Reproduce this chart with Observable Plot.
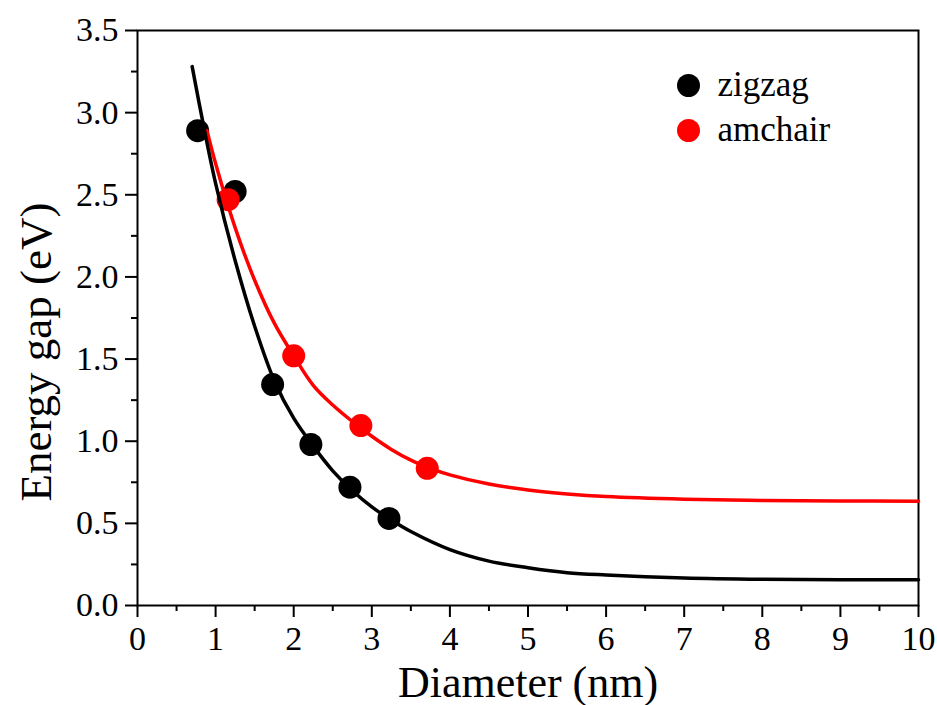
<!DOCTYPE html>
<html><head><meta charset="utf-8">
<script src="https://cdn.jsdelivr.net/npm/d3@7"></script>
<script src="https://cdn.jsdelivr.net/npm/@observablehq/plot@0.6"></script>
<style>
body{margin:0;background:#fff}
#chart{width:937px;height:705px}
</style>
</head><body><div id="chart"></div>
<script>
// ---- data ----
const seriesNames = ["zigzag", "amchair"];
const seriesColors = ["#000000", "#ff0000"];

const zigzagX = [0.77, 1.25, 1.73, 2.22, 2.72, 3.22];
const zigzagY = [2.89, 2.52, 1.345, 0.98, 0.72, 0.53];
const amchairX = [1.16, 2.0, 2.86, 3.71];
const amchairY = [2.47, 1.52, 1.095, 0.835];

// fitted curves
const zigzagFitX = [0.70, 0.85, 1.0, 1.25, 1.5, 1.75, 2.0, 2.25, 2.5, 2.75, 3.0, 3.25, 3.5, 4.0, 4.5, 5.0, 5.5, 6.0, 7.0, 8.0, 9.0, 10.0];
const zigzagFitY = [3.28, 2.91, 2.57, 2.10, 1.70, 1.37, 1.14, 0.97, 0.82, 0.70, 0.60, 0.52, 0.45, 0.34, 0.27, 0.23, 0.20, 0.186, 0.168, 0.160, 0.157, 0.156];
const amchairFitX = [0.89, 1.0, 1.25, 1.5, 1.75, 2.0, 2.25, 2.5, 2.75, 3.0, 3.25, 3.5, 3.75, 4.0, 4.5, 5.0, 5.5, 6.0, 7.0, 8.0, 9.0, 10.0];
const amchairFitY = [2.89, 2.69, 2.30, 1.98, 1.72, 1.52, 1.34, 1.22, 1.12, 1.03, 0.95, 0.885, 0.835, 0.795, 0.739, 0.703, 0.679, 0.663, 0.647, 0.639, 0.636, 0.635];

const xTicks = [0, 1, 2, 3, 4, 5, 6, 7, 8, 9, 10];
const xMinorTicks = [0.5, 1.5, 2.5, 3.5, 4.5, 5.5, 6.5, 7.5, 8.5, 9.5];
const yTicks = [0, 0.5, 1.0, 1.5, 2.0, 2.5, 3.0, 3.5];
const yMinorTicks = [0.25, 0.75, 1.25, 1.75, 2.25, 2.75, 3.25];
const xLabel = "Diameter (nm)";
const yLabel = "Energy gap (eV)";

// ---- build tables ----
const points = [
  ...zigzagX.map((x, i) => ({x, y: zigzagY[i], s: seriesNames[0]})),
  ...amchairX.map((x, i) => ({x, y: amchairY[i], s: seriesNames[1]}))
];
const fits = [
  zigzagFitX.map((x, i) => ({x, y: zigzagFitY[i]})),
  amchairFitX.map((x, i) => ({x, y: amchairFitY[i]}))
];
const legend = seriesNames.map((name, i) => ({name, color: seriesColors[i], i}));

const serif = "'Liberation Serif', 'Times New Roman', serif";
const fmtY = d3.format(".1f");

const marks = [
  Plot.axisY(yTicks, {tickSize: 12, text: null, label: null, strokeWidth: 2}),
  Plot.axisY(yMinorTicks, {tickSize: 6, text: null, label: null, strokeWidth: 2}),
  Plot.axisX(xTicks, {tickSize: 12, text: null, label: null, strokeWidth: 2}),
  Plot.axisX(xMinorTicks, {tickSize: 6, text: null, label: null, strokeWidth: 2}),
  // tick labels
  Plot.text(yTicks, {y: d => d, frameAnchor: "left", dx: -19, text: d => fmtY(d), textAnchor: "end", lineAnchor: "middle", fontSize: 34, fill: "#000"}),
  Plot.text(xTicks, {x: d => d, frameAnchor: "bottom", dy: 20, text: d => String(d), textAnchor: "middle", lineAnchor: "top", fontSize: 34, fill: "#000"}),
  Plot.frame({stroke: "#000", strokeWidth: 2}),
  Plot.dot(points.filter(d => d.s === seriesNames[0]), {x: "x", y: "y", r: 11.5, fill: seriesColors[0], stroke: "none"}),
  Plot.dot(points.filter(d => d.s === seriesNames[1]), {x: "x", y: "y", r: 11.5, fill: seriesColors[1], stroke: "none"}),
  Plot.line(fits[1], {x: "x", y: "y", stroke: seriesColors[1], strokeWidth: 3.5, curve: "catmull-rom"}),
  Plot.line(fits[0], {x: "x", y: "y", stroke: seriesColors[0], strokeWidth: 3.5, curve: "catmull-rom"}),
];

legend.forEach((d, i) => {
  marks.push(Plot.dot([d], {frameAnchor: "top-right", dx: -230, dy: 55 + 45 * i, r: 11.5, fill: d.color, stroke: "none"}));
  marks.push(Plot.text([d], {frameAnchor: "top-right", dx: -201, dy: 54 + 45 * i, text: "name", textAnchor: "start", lineAnchor: "middle", fontSize: 35, fill: "#000"}));
});

marks.push(Plot.text([xLabel], {frameAnchor: "bottom", dy: 77, text: d => d, fontSize: 44, textAnchor: "middle", lineAnchor: "middle", fill: "#000"}));
marks.push(Plot.text([yLabel], {frameAnchor: "left", dx: -101, dy: 34, text: d => d, fontSize: 45, rotate: -90, textAnchor: "middle", lineAnchor: "middle", fill: "#000"}));

const chart = Plot.plot({
  width: 937,
  height: 705,
  marginLeft: 137,
  marginRight: 19,
  marginTop: 30,
  marginBottom: 100,
  x: {domain: [0, 10]},
  y: {domain: [0, 3.5]},
  style: {fontFamily: serif, fontSize: "34px", color: "#000", background: "#fff", overflow: "visible"},
  marks
});
document.getElementById("chart").appendChild(chart);
</script>
</body></html>
